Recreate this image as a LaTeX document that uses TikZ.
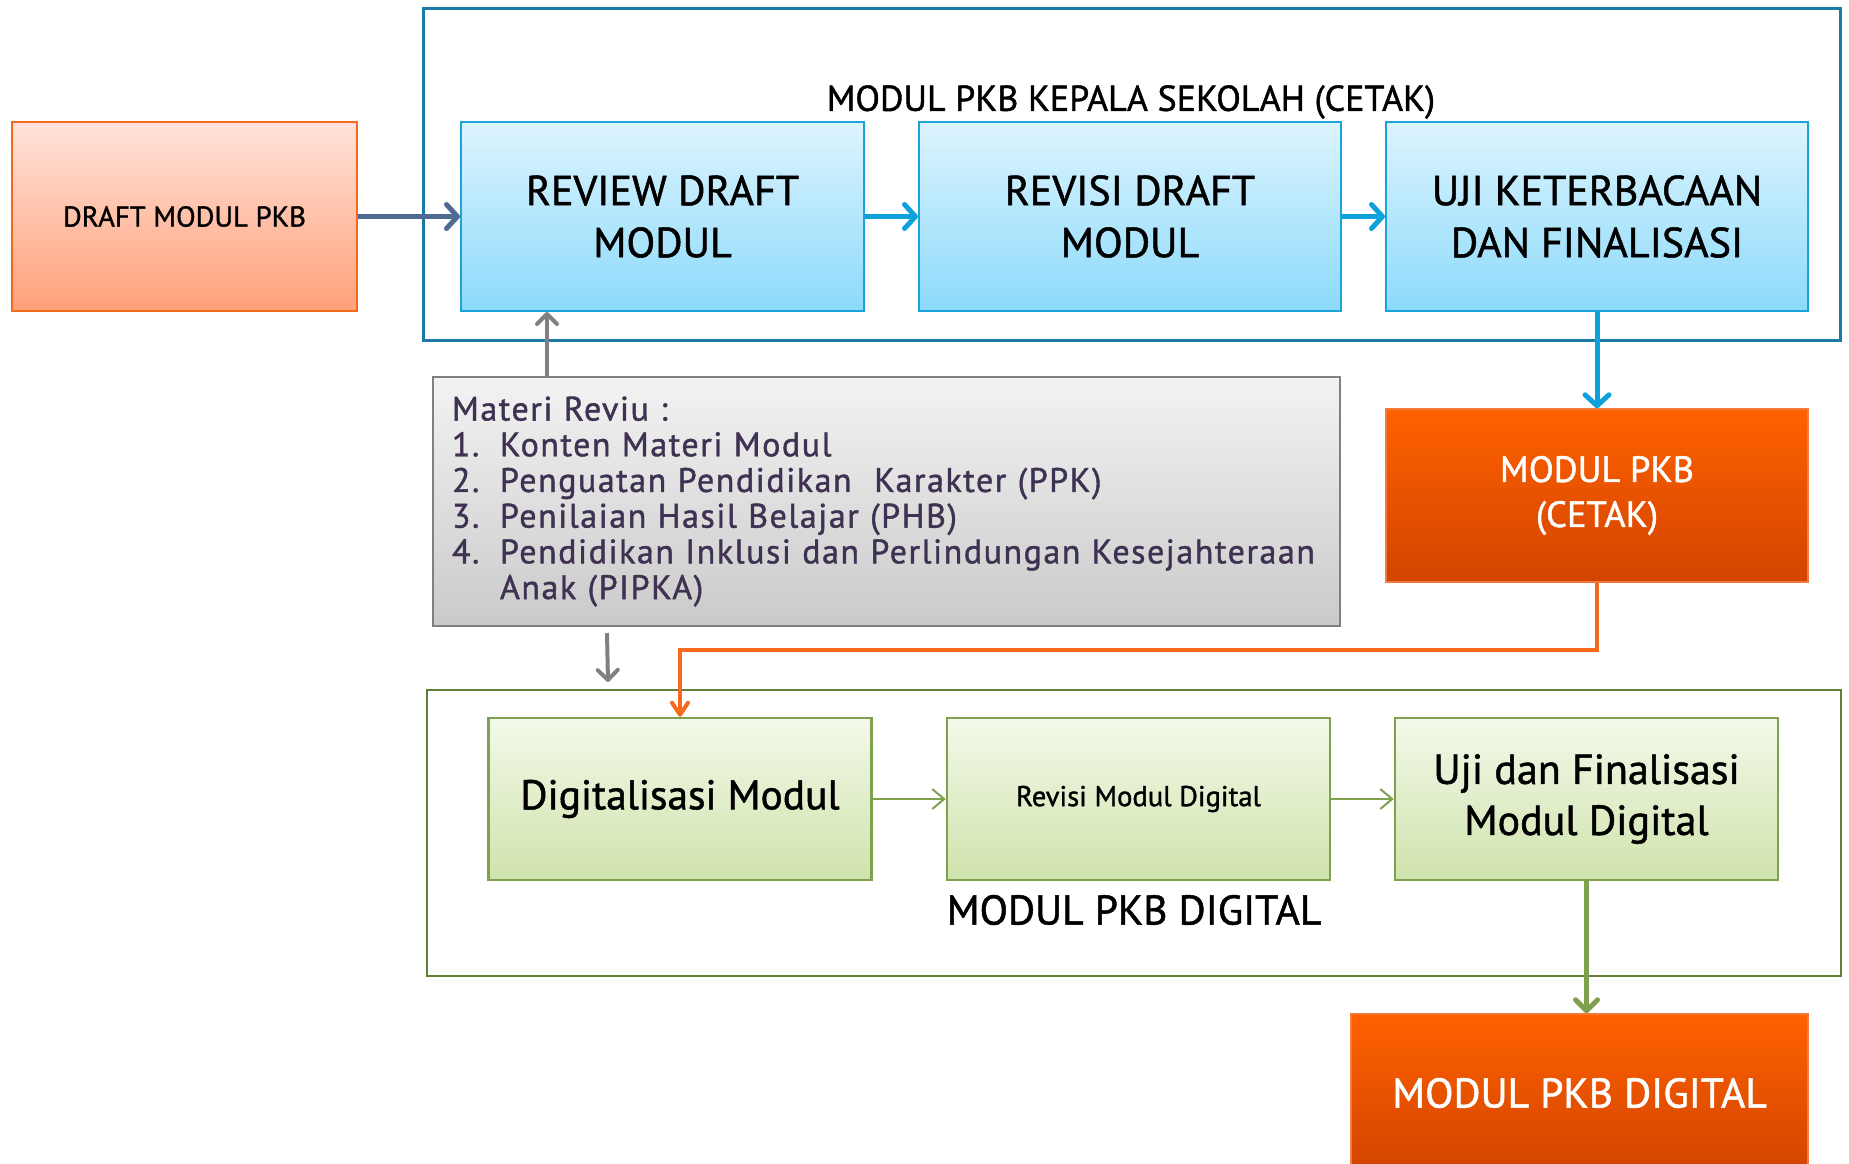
\documentclass[tikz,border=0pt]{standalone}
\usepackage{fontspec}
\setmainfont{PT Sans}[FakeBold=1.2]
\usetikzlibrary{arrows.meta}

\definecolor{draftTop}{HTML}{FFE2DA}
\definecolor{draftBot}{HTML}{FFA078}
\definecolor{draftLine}{HTML}{F36A1F}
\definecolor{blueTop}{HTML}{DDF4FE}
\definecolor{blueBot}{HTML}{8CDAFB}
\definecolor{blueLine}{HTML}{1BA3DB}
\definecolor{blueFrame}{HTML}{1B7BA6}
\definecolor{blueArrow}{HTML}{0EA1DB}
\definecolor{slate}{HTML}{4F6B93}
\definecolor{grayTop}{HTML}{F3F3F3}
\definecolor{grayBot}{HTML}{CACACA}
\definecolor{grayLine}{HTML}{808080}
\definecolor{purpleText}{HTML}{3F3151}
\definecolor{orangeTop}{HTML}{FF6100}
\definecolor{orangeBot}{HTML}{D14400}
\definecolor{orangeLine}{HTML}{F57A38}
\definecolor{orangeArrow}{HTML}{F56A1E}
\definecolor{greenTop}{HTML}{F3F9EA}
\definecolor{greenBot}{HTML}{CFE3AC}
\definecolor{greenLine}{HTML}{7FA04C}
\definecolor{greenFrame}{HTML}{627F37}

\tikzset{
  stepbox/.style={draw=blueLine, line width=2pt, top color=blueTop, bottom color=blueBot,
    minimum height=189pt, align=center, font=\fontsize{42}{52}\selectfont},
  outbox/.style={draw=orangeLine, line width=1.5pt, top color=orangeTop, bottom color=orangeBot,
    align=center, text=white},
  digbox/.style={draw=greenLine, line width=2.5pt, top color=greenTop, bottom color=greenBot,
    minimum width=383pt, minimum height=162pt, align=center},
  fatarrow/.style={line width=5pt, -{Straight Barb[length=11pt,width=24pt,round]}},
  thinarrow/.style={draw=greenLine, line width=2pt, -{Straight Barb[length=12pt,width=20pt]}}
}

\begin{document}
\begin{tikzpicture}[x=1pt,y=-1pt]
  \useasboundingbox (0,0) rectangle (1849,1163);

  %%%%% CETAK %%%%%
  \draw[blueFrame, line width=3pt] (423,8) rectangle (1840,340);
  \node[font=\fontsize{36}{42}\selectfont] (judulcetak) at (1131,102) {MODUL PKB KEPALA SEKOLAH (CETAK)};

  \node[draw=draftLine, line width=2pt, top color=draftTop, bottom color=draftBot,
    minimum width=345pt, minimum height=189pt, font=\fontsize{28.7}{34}\selectfont] (draft) at (184.5,216.5) {DRAFT MODUL PKB};
  \node[stepbox, minimum width=403pt] (review) at (662.5,216.5) {REVIEW DRAFT\\MODUL};
  \node[stepbox, minimum width=422pt] (revisi) at (1130,216.5) {REVISI DRAFT\\MODUL};
  \node[stepbox, minimum width=422pt] (uji) at (1597,216.5) {UJI KETERBACAAN\\DAN FINALISASI};

  \node[outbox, minimum width=422pt, minimum height=173pt, font=\fontsize{36.5}{45}\selectfont] (cetak) at (1597,495.5) {MODUL PKB\\(CETAK)};

  \draw[fatarrow, slate] (draft) -- (review);
  \draw[fatarrow, blueArrow] (review) -- (revisi);
  \draw[fatarrow, blueArrow] (revisi) -- (uji);
  \draw[fatarrow, blueArrow] (uji) -- (cetak);

  %%%%% MATERI %%%%%
  \node[draw=grayLine, line width=2pt, top color=grayTop, bottom color=grayBot,
    minimum width=907pt, minimum height=249pt, text width=869pt, inner xsep=19pt,
    align=left, text=purpleText, font=\fontsize{34}{35.7}\selectfont\addfontfeature{LetterSpace=4.5}] (materi) at (886.5,501.5)
    {Materi Reviu :\\
     \makebox[48pt][l]{1.}Konten Materi Modul\\
     \makebox[48pt][l]{2.}Penguatan Pendidikan\ \ Karakter (PPK)\\
     \makebox[48pt][l]{3.}Penilaian Hasil Belajar (PHB)\\
     \makebox[48pt][l]{4.}Pendidikan Inklusi dan Perlindungan Kesejahteraan\\
     \hspace*{48pt}Anak (PIPKA)};

  \draw[grayLine, line width=4pt, -{Straight Barb[length=10pt,width=20pt,round]}]
    ([xshift=115pt]materi.north west) -- ([xshift=115pt]materi.north west |- review.south);
  \coordinate (celah) at (608,682);
  \draw[grayLine, line width=4pt, -{Straight Barb[length=10pt,width=20pt,round]}]
    ([xshift=175pt,yshift=-6pt]materi.south west) -- (celah);

  %%%%% DIGITAL %%%%%
  \draw[greenFrame, line width=2.5pt] (427,690) rectangle (1841,976);
  \node[font=\fontsize{41.5}{48}\selectfont] (juduldigital) at (1134,910) {MODUL PKB DIGITAL};

  \node[digbox, font=\fontsize{41.5}{48}\selectfont] (digital) at (680,799) {Digitalisasi Modul};
  \node[digbox, font=\fontsize{28.6}{33}\selectfont] (revdig) at (1138.5,799) {Revisi Modul Digital};
  \node[digbox, font=\fontsize{42}{51}\selectfont] (ujidig) at (1586.5,799) {Uji dan Finalisasi\\Modul Digital};

  \node[outbox, minimum width=457pt, minimum height=158pt, font=\fontsize{41.5}{48}\selectfont] (hasil) at (1579.5,1093) {MODUL PKB DIGITAL};

  \draw[orangeArrow, line width=4pt, -{Straight Barb[length=12pt,width=16pt,round]}]
    (cetak.south) -- ++(0,67) -| (digital.north);
  \draw[thinarrow] (digital) -- (revdig);
  \draw[thinarrow] (revdig) -- (ujidig);
  \draw[greenLine, line width=5pt, -{Straight Barb[length=11pt,width=22pt,round]}]
    (ujidig.south) -- (ujidig.south |- hasil.north);
\end{tikzpicture}
\end{document}
